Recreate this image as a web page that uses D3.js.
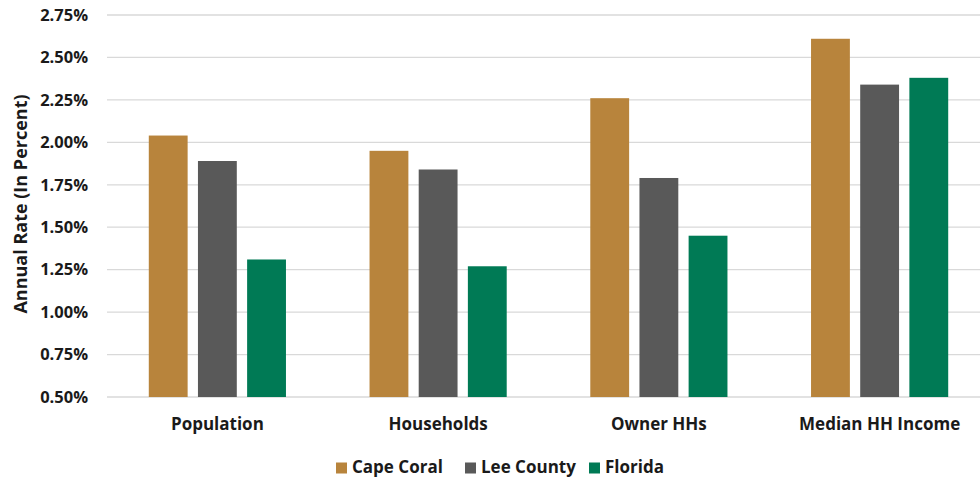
<!DOCTYPE html>
<html>
<head>
<meta charset="utf-8">
<script src="https://cdn.jsdelivr.net/npm/d3@7"></script>
<style>
  body { margin: 0; background: #fff; overflow: hidden; }
  text { font-family: "Open Sans", sans-serif; font-weight: bold; fill: #1a1a1a; }
</style>
</head>
<body>
<div id="chart"></div>
<script>
// data
var categories = ["Population", "Households", "Owner HHs", "Median HH Income"]
var seriesNames = ["Cape Coral", "Lee County", "Florida"]
var capeCoral = [2.04, 1.95, 2.26, 2.61]
var leeCounty = [1.89, 1.84, 1.79, 2.34]
var florida = [1.31, 1.27, 1.45, 2.38]
var yTicks = [0.50, 0.75, 1.00, 1.25, 1.50, 1.75, 2.00, 2.25, 2.50, 2.75]
var colors = ["#B8843C", "#595959", "#007A55"]

var allSeries = [capeCoral, leeCounty, florida]

var W = 980, H = 480
// plot runs a bit past the right edge, like the source image (it was cropped)
var margin = {top: 15, right: -10, bottom: 83, left: 107},
    width = W - margin.left - margin.right,
    height = H - margin.top - margin.bottom

var svg = d3.select("#chart").append("svg")
    .attr("width", W)
    .attr("height", H)
    .style("display", "block")

var g = svg.append("g")
    .attr("transform", "translate(" + margin.left + "," + margin.top + ")")

var x = d3.scaleBand()
    .domain(categories)
    .range([0, width])
    .padding(0)

var xs = d3.scaleBand()
    .domain(seriesNames)
    .range([0, x.bandwidth()])
    .paddingInner(0.21)
    .paddingOuter(0.85)

var y = d3.scaleLinear()
    .domain([0.5, 2.75])
    .range([height, 0])

// gridlines
g.selectAll(".grid")
    .data(yTicks)
    .enter()
    .append("line")
    .attr("class", "grid")
    .attr("x1", 0)
    .attr("x2", width)
    .attr("y1", function(d) { return y(d) })
    .attr("y2", function(d) { return y(d) })
    .attr("stroke", "#D9D9D9")
    .attr("stroke-width", 1.3)

// y axis labels
var yAxis = g.append("g")
    .attr("class", "yaxis")
    .call(d3.axisLeft(y).tickValues(yTicks).tickFormat(function(d) { return d.toFixed(2) + "%" }).tickSize(0).tickPadding(19))
yAxis.select(".domain").remove()
yAxis.selectAll("text")
    .style("font-size", "16.5px")
    .style("font-family", "'Open Sans', sans-serif")
    .style("font-weight", "bold")
    .attr("fill", "#1a1a1a")

// bars
var groups = g.selectAll(".group")
    .data(categories)
    .enter()
    .append("g")
    .attr("class", "group")
    .attr("transform", function(d) { return "translate(" + x(d) + ",0)" })

groups.selectAll(".bar")
    .data(function(d, i) { return seriesNames.map(function(s, j) { return {series: s, idx: j, value: allSeries[j][i]} }) })
    .enter()
    .append("rect")
    .attr("class", "bar")
    .attr("x", function(d) { return xs(d.series) })
    .attr("width", xs.bandwidth())
    .attr("y", function(d) { return y(d.value) })
    .attr("height", function(d) { return height - y(d.value) })
    .attr("fill", function(d) { return colors[d.idx] })

// x axis labels
var xAxis = g.append("g")
    .attr("class", "xaxis")
    .attr("transform", "translate(0," + height + ")")
    .call(d3.axisBottom(x).tickSize(0).tickPadding(21))
xAxis.select(".domain").remove()
xAxis.selectAll("text")
    .style("font-size", "17px")
    .style("font-family", "'Open Sans', sans-serif")
    .style("font-weight", "bold")
    .attr("fill", "#1a1a1a")

// y axis title
svg.append("text")
    .attr("transform", "translate(27,204) rotate(-90)")
    .style("text-anchor", "middle")
    .style("font-size", "18px")
    .text("Annual Rate (In Percent)")

// legend
var legendX = [336, 465, 589]
var legend = svg.selectAll(".legend")
    .data(seriesNames)
    .enter()
    .append("g")
    .attr("class", "legend")
    .attr("transform", function(d, i) { return "translate(" + legendX[i] + ",473)" })

legend.append("rect")
    .attr("x", 0)
    .attr("y", -10.5)
    .attr("width", 11)
    .attr("height", 11)
    .attr("fill", function(d, i) { return colors[i] })

legend.append("text")
    .attr("x", 16)
    .style("font-size", "17px")
    .text(function(d) { return d })
</script>
</body>
</html>
